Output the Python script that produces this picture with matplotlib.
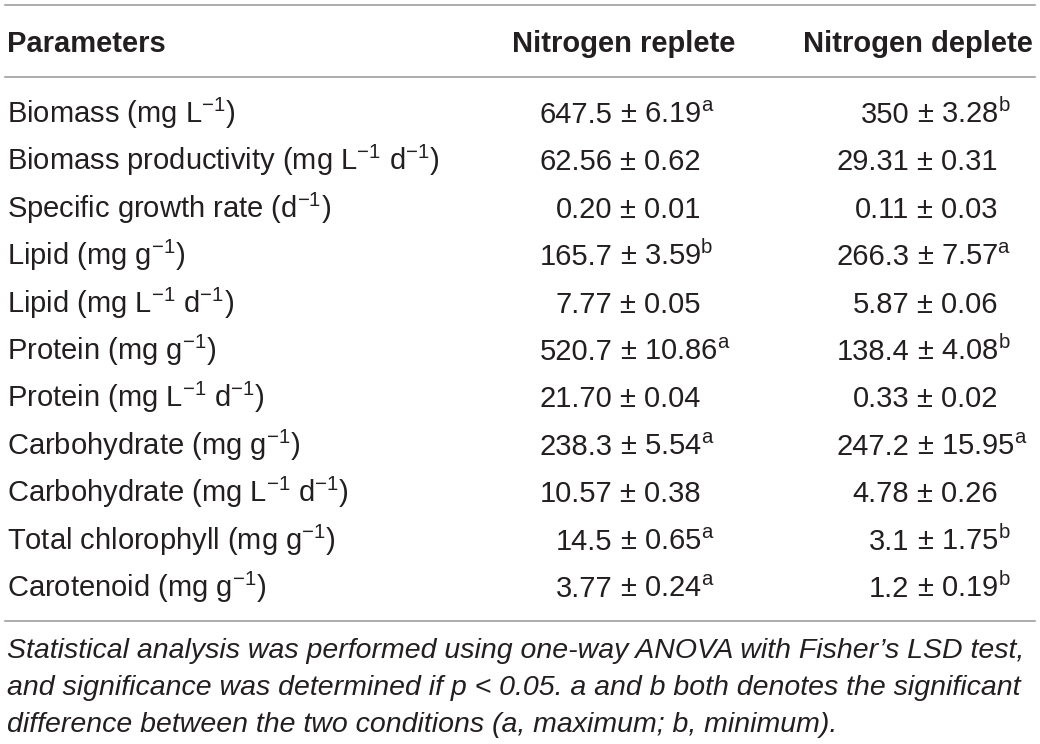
import matplotlib.pyplot as plt

plt.rcParams['font.family'] = ['Liberation Sans', 'DejaVu Sans']
plt.rcParams['mathtext.fontset'] = 'custom'
plt.rcParams['mathtext.rm'] = 'Liberation Sans'
plt.rcParams['mathtext.it'] = 'Liberation Sans:italic'
plt.rcParams['mathtext.bf'] = 'Liberation Sans:bold'

headers = ['Parameters', 'Nitrogen replete', 'Nitrogen deplete']
parameters = [
    'Biomass (mg L$^{-1}$)',
    'Biomass productivity (mg L$^{-1}$ d$^{-1}$)',
    'Specific growth rate (d$^{-1}$)',
    'Lipid (mg g$^{-1}$)',
    'Lipid (mg L$^{-1}$ d$^{-1}$)',
    'Protein (mg g$^{-1}$)',
    'Protein (mg L$^{-1}$ d$^{-1}$)',
    'Carbohydrate (mg g$^{-1}$)',
    'Carbohydrate (mg L$^{-1}$ d$^{-1}$)',
    'Total chlorophyll (mg g$^{-1}$)',
    'Carotenoid (mg g$^{-1}$)',
]
replete_mean = ['647.5', '62.56', '0.20', '165.7', '7.77', '520.7', '21.70', '238.3', '10.57', '14.5', '3.77']
replete_sd = ['6.19', '0.62', '0.01', '3.59', '0.05', '10.86', '0.04', '5.54', '0.38', '0.65', '0.24']
replete_sig = ['a', '', '', 'b', '', 'a', '', 'a', '', 'a', 'a']
deplete_mean = ['350', '29.31', '0.11', '266.3', '5.87', '138.4', '0.33', '247.2', '4.78', '3.1', '1.2']
deplete_sd = ['3.28', '0.31', '0.03', '7.57', '0.06', '4.08', '0.02', '15.95', '0.26', '1.75', '0.19']
deplete_sig = ['b', '', '', 'a', '', 'b', '', 'a', '', 'b', 'b']
footnote = [
    'Statistical analysis was performed using one-way ANOVA with Fisher\u2019s LSD test,',
    'and significance was determined if p < 0.05. a and b both denotes the significant',
    'difference between the two conditions (a, maximum; b, minimum).',
]

fig = plt.figure(figsize=(10.4, 7.44), dpi=100)
ax = fig.add_axes([0, 0, 1, 1])
ax.set_xlim(0, 1040)
ax.set_ylim(744, 0)
ax.axis('off')

fs = 21
txt = '#231f20'
line_col = '#9f9f9f'

# rules: top, under header, bottom
for y in [5, 77, 621]:
    ax.plot([5, 1035], [y, y], color=line_col, lw=1.2)

ax.text(7, 52, headers[0], fontsize=fs, fontweight='bold', color=txt, va='baseline', ha='left')
ax.text(624, 52, headers[1], fontsize=fs, fontweight='bold', color=txt, va='baseline', ha='center')
ax.text(918, 52, headers[2], fontsize=fs, fontweight='bold', color=txt, va='baseline', ha='center')

em = fs * 100 / 72.0
pm_half = 0.292 * em
space = 0.278 * em


def value(x_pm, y, mean, sd, sig):
    # values are aligned on the plus-minus sign
    ax.text(x_pm - pm_half - space, y, mean, fontsize=fs, color=txt, va='baseline', ha='right')
    s = '\u00b1 ' + sd
    if sig:
        s += '$^{\\mathrm{' + sig + '}}$'
    ax.text(x_pm - pm_half, y, s, fontsize=fs, color=txt, va='baseline', ha='left')


for i, p in enumerate(parameters):
    yb = 123 + i * 47.4
    ax.text(7, yb, p, fontsize=fs, color=txt, va='baseline', ha='left')
    value(629, yb, replete_mean[i], replete_sd[i], replete_sig[i])
    value(926, yb, deplete_mean[i], deplete_sd[i], deplete_sig[i])

for j, line in enumerate(footnote):
    ax.text(7, 658 + j * 37, line, fontsize=20.5, style='italic', color=txt, va='baseline', ha='left')

fig.savefig('out.png', dpi=100)
